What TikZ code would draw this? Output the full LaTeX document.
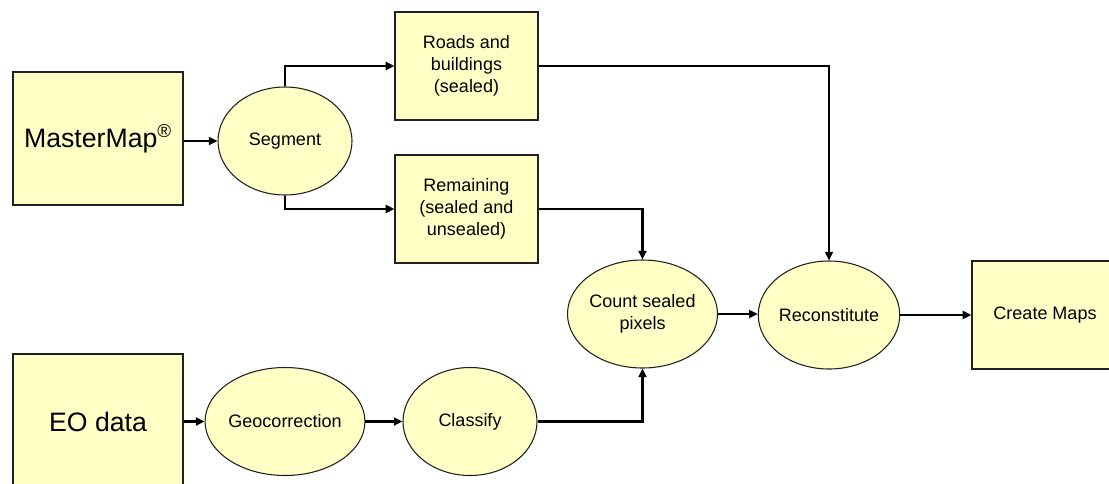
\documentclass[tikz,border=0pt]{standalone}
\usepackage{fontspec}
\setmainfont{Liberation Sans}
\usetikzlibrary{shapes.geometric,arrows.meta}
\definecolor{boxfill}{HTML}{FFFFC6}
\definecolor{edge}{HTML}{202020}
\tikzset{
  procbox/.style={draw=edge,line width=0.9pt,fill=boxfill,rectangle,inner sep=0pt,align=center,font=\fontsize{13.5}{16.5}\selectfont},
  bigbox/.style={procbox,font=\fontsize{20}{24}\selectfont},
  proc/.style={draw=edge,line width=0.8pt,fill=boxfill,ellipse,inner sep=0pt,minimum width=100.5pt,minimum height=81pt,align=center,font=\fontsize{13.5}{16.5}\selectfont},
  arr/.style={line width=1.9pt,draw=black,-{Triangle[length=6.5pt,width=6pt]}},
}
\begin{document}
\begin{tikzpicture}[x=0.75pt,y=-0.75pt]
\useasboundingbox (0,0) rectangle (1109,483);
\clip (0,0) rectangle (1109,483);
\fill[white] (0,0) rectangle (1109,483);
% boxes
\node[bigbox,minimum width=127.5pt,minimum height=99.75pt] (mm) at (98,138.5) {MasterMap\textsuperscript{\textregistered}};
\node[bigbox,minimum width=127.5pt,minimum height=102pt] (eo) at (98,422) {EO data};
\node[procbox,minimum width=107.25pt,minimum height=81pt] (roads) at (466.5,66) {Roads and\\buildings\\(sealed)};
\node[procbox,minimum width=107.25pt,minimum height=81pt] (rem) at (466.5,209) {Remaining\\(sealed and\\unsealed)};
\node[procbox,minimum width=109.5pt,minimum height=81pt] (create) at (1045,315) {Create Maps};
% ellipses
\node[proc] (seg) at (285,141) {Segment};
\node[proc] (geo) at (285,421.5) {Geocorrection};
\node[proc] (cls) at (470,421.5) {Classify};
\node[proc] (count) at (642.5,314) {Count sealed\\pixels};
\node[proc] (recon) at (829,315) {Reconstitute};
% connectors
\draw[arr] (seg.west -| mm.east) -- (seg.west);
\draw[arr] (seg.north) |- (roads.west);
\draw[arr] (seg.south) |- (rem.west);
\draw[arr] (roads.east) -| (recon.north);
\draw[arr] (rem.east) -| (count.north);
\draw[arr] (cls.east) -| (count.south);
\draw[arr] (count.east) -- (count.east -| recon.west);
\draw[arr] (recon.east) -- (recon.east -| create.west);
\draw[arr] (geo.west -| eo.east) -- (geo.west);
\draw[arr] (geo.east) -- (cls.west);
\end{tikzpicture}
\end{document}
